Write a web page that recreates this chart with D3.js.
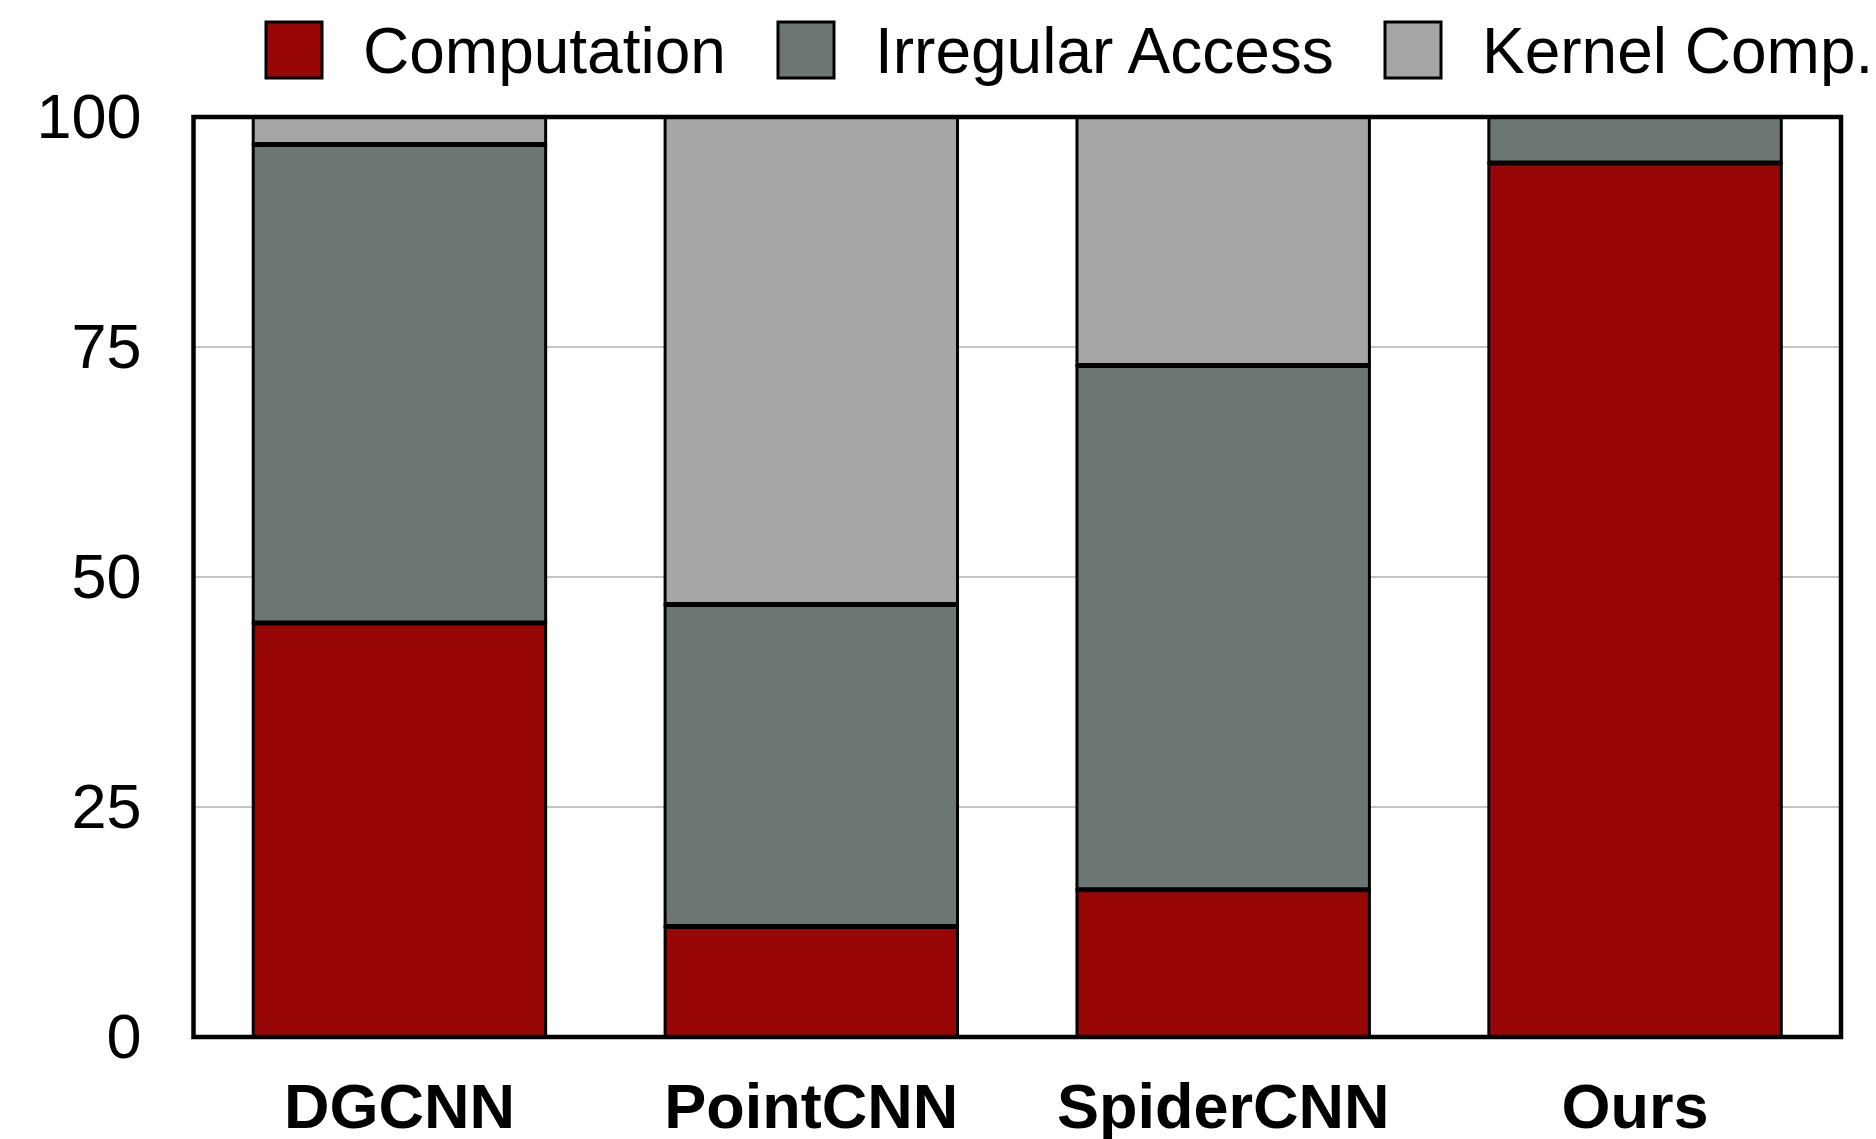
<!DOCTYPE html>
<html>
<head>
<meta charset="utf-8">
<script src="https://cdn.jsdelivr.net/npm/d3@7"></script>
<style>
  html, body { margin: 0; padding: 0; background: #fff; }
  svg { display: block; font-family: "Liberation Sans", Arial, Helvetica, sans-serif; }
</style>
</head>
<body>
<svg id="chart" width="1876" height="1139"></svg>
<script>
// Execution-time breakdown (%) per network
const categories = ["DGCNN", "PointCNN", "SpiderCNN", "Ours"];
const computation = [45, 12, 16, 95];
const irregularAccess = [52, 35, 57, 5];
const kernelComp = [3, 53, 27, 0];
const seriesNames = ["Computation", "Irregular Access", "Kernel Comp."];
const yTicks = [0, 25, 50, 75, 100];

const colors = ["#980606", "#6c7674", "#a6a6a6"];

const W = 1876, H = 1139;
const plot = { left: 193.5, right: 1841, top: 117, bottom: 1037 };

const svg = d3.select("#chart");

const x = d3.scaleBand()
  .domain(categories)
  .range([plot.left, plot.right])
  .paddingInner(0.29)
  .paddingOuter(0.145);

const y = d3.scaleLinear()
  .domain([0, 100])
  .range([plot.bottom, plot.top]);

const color = d3.scaleOrdinal().domain(seriesNames).range(colors);

// rows for the stack layout
const rows = categories.map((c, i) => ({
  category: c,
  "Computation": computation[i],
  "Irregular Access": irregularAccess[i],
  "Kernel Comp.": kernelComp[i]
}));
const stacked = d3.stack().keys(seriesNames)(rows);

// horizontal grid lines
svg.append("g")
  .selectAll("line")
  .data(yTicks.filter(t => t > 0 && t < 100))
  .join("line")
  .attr("x1", plot.left)
  .attr("x2", plot.right)
  .attr("y1", d => y(d))
  .attr("y2", d => y(d))
  .attr("stroke", "#c4c4c4")
  .attr("stroke-width", 2);

// stacked segments
const layers = svg.append("g")
  .selectAll("g")
  .data(stacked)
  .join("g")
  .attr("fill", d => color(d.key));

layers.selectAll("rect")
  .data(d => d.filter(s => s[1] - s[0] > 0))
  .join("rect")
  .attr("x", d => x(d.data.category))
  .attr("width", x.bandwidth())
  .attr("y", d => y(d[1]))
  .attr("height", d => y(d[0]) - y(d[1]))
  .attr("stroke", "#000")
  .attr("stroke-width", 3);

// heavier dividers between stacked segments
const dividers = [];
stacked.forEach(layer => {
  layer.forEach(s => {
    if (s[1] - s[0] > 0 && s[1] < 100) {
      dividers.push({ category: s.data.category, v: s[1] });
    }
  });
});
svg.append("g")
  .selectAll("line")
  .data(dividers)
  .join("line")
  .attr("x1", d => x(d.category))
  .attr("x2", d => x(d.category) + x.bandwidth())
  .attr("y1", d => y(d.v))
  .attr("y2", d => y(d.v))
  .attr("stroke", "#000")
  .attr("stroke-width", 5);

// plot frame
svg.append("rect")
  .attr("x", plot.left)
  .attr("y", plot.top)
  .attr("width", plot.right - plot.left)
  .attr("height", plot.bottom - plot.top)
  .attr("fill", "none")
  .attr("stroke", "#000")
  .attr("stroke-width", 4.5);

// y axis
const yAxis = svg.append("g")
  .attr("transform", `translate(${plot.left},0)`)
  .call(d3.axisLeft(y).tickValues(yTicks).tickSize(0).tickPadding(52).tickFormat(d3.format("d")));
yAxis.select(".domain").remove();
yAxis.selectAll("text")
  .attr("font-size", 63)
  .attr("font-family", "Liberation Sans, Arial, sans-serif")
  .attr("fill", "#000");

// x axis
const xAxis = svg.append("g")
  .attr("transform", `translate(0,${plot.bottom})`)
  .call(d3.axisBottom(x).tickSize(0).tickPadding(46));
xAxis.select(".domain").remove();
xAxis.selectAll("text")
  .attr("font-size", 63)
  .attr("font-weight", "bold")
  .attr("font-family", "Liberation Sans, Arial, sans-serif")
  .attr("fill", "#000");

// legend
const legendX = [266, 778, 1385];
const legend = svg.append("g")
  .selectAll("g")
  .data(seriesNames)
  .join("g")
  .attr("transform", (d, i) => `translate(${legendX[i]},22)`);
legend.append("rect")
  .attr("width", 56)
  .attr("height", 56)
  .attr("fill", d => color(d))
  .attr("stroke", "#000")
  .attr("stroke-width", 3);
legend.append("text")
  .attr("x", 97)
  .attr("y", 51)
  .attr("font-size", 64)
  .attr("fill", "#000")
  .text(d => d);
</script>
</body>
</html>
